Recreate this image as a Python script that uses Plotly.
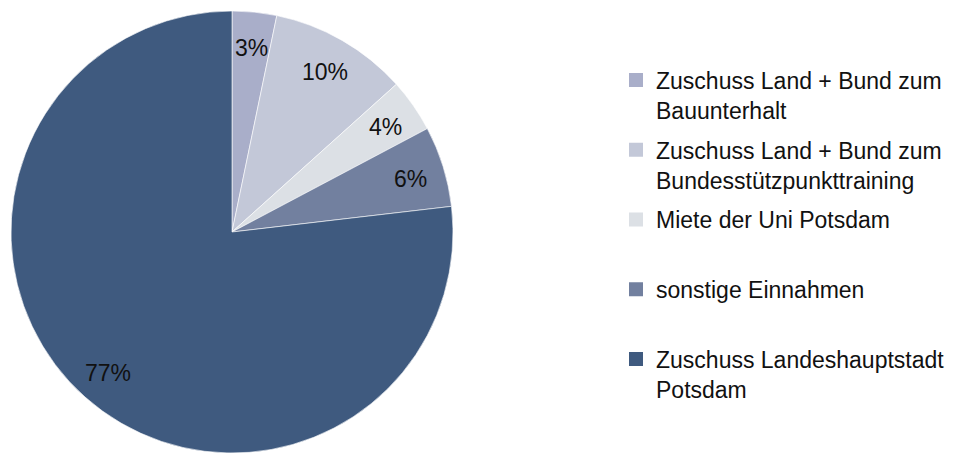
import math
import plotly.graph_objects as go

labels = [
    "Zuschuss Land + Bund zum<br>Bauunterhalt",
    "Zuschuss Land + Bund zum<br>Bundesstützpunkttraining",
    "Miete der Uni Potsdam<br> ",
    "sonstige Einnahmen<br> ",
    "Zuschuss Landeshauptstadt<br>Potsdam",
]
values = [3.25, 10.1, 3.9, 5.9, 76.85]
colors = ["#A9AEC9", "#C3C8D8", "#DCE0E5", "#72809F", "#3F5A7F"]

W, H = 961, 453
cx, cy, R = 232, 232, 221  # pie centre / radius in pixels

fig = go.Figure()
fig.add_trace(go.Pie(
    labels=labels, values=values, sort=False, direction="clockwise", rotation=0,
    marker=dict(colors=colors, line=dict(color="white", width=0.6)),
    textinfo="none", hoverinfo="label+percent", showlegend=False,
    domain=dict(x=[(cx - R) / W, (cx + R) / W], y=[(H - cy - R) / H, (H - cy + R) / H]),
))

# legend entries, one group each so the gap can be set
for lab, col in zip(labels, colors):
    fig.add_trace(go.Scatter(
        x=[None], y=[None], mode="markers", name=lab, legendgroup=lab,
        marker=dict(symbol="square", size=14, color=col),
    ))

# percentage labels at the middle angle of each slice
total = sum(values)
cum = 0
for v in values:
    mid = (cum + v / 2) / total * 2 * math.pi
    cum += v
    r = 0.845 * R
    fig.add_annotation(
        x=(cx + r * math.sin(mid)) / W, y=(H - cy + r * math.cos(mid) - 2) / H,
        xref="paper", yref="paper", xanchor="center", yanchor="middle", showarrow=False,
        text=f"{round(v / total * 100)}%",
        font=dict(size=23, color="#111111"),
    )

fig.update_layout(
    width=W, height=H, margin=dict(l=0, r=0, t=0, b=0),
    paper_bgcolor="white", plot_bgcolor="white",
    font=dict(family="Liberation Sans, Arial, sans-serif", size=23, color="#111111"),
    xaxis=dict(visible=False), yaxis=dict(visible=False),
    legend=dict(x=0.641, y=0.871, xanchor="left", yanchor="top", valign="top",
                tracegroupgap=7, font=dict(size=23), itemclick=False),
)

fig.write_html("out.html", config={"displayModeBar": False},
               post_script="document.body.style.margin='0';")
